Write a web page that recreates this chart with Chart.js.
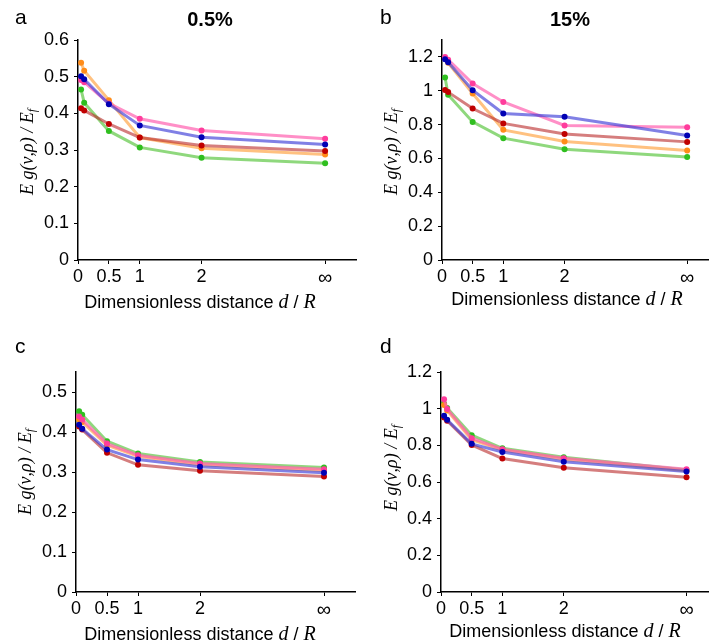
<!DOCTYPE html>
<html>
<head>
<meta charset="utf-8">
<script src="https://cdn.jsdelivr.net/npm/chart.js@4/dist/chart.umd.min.js"></script>
<style>
  html, body { margin:0; padding:0; background:#fff; overflow:hidden; width:712px; height:641px; }
  canvas { position:absolute; }
  .t { position:absolute; font-family:"Liberation Sans", Arial, sans-serif; color:#000; white-space:nowrap; line-height:1; }
  .letter { font-size:21px; }
  .title { font-size:20px; font-weight:bold; transform:translateX(-50%); }
  .xt { font-size:18px; transform:translateX(-50%); }
  .xt i, .yt { font-family:"Liberation Serif", "Times New Roman", serif; font-style:italic; }
  .xt i { font-size:20px; }
  .yt { font-size:18px; transform:translate(-50%,-50%) rotate(-90deg); }
  .yt sub { font-size:12px; vertical-align:-3px; }
</style>
</head>
<body>
<canvas id="ca" width="360" height="320" style="left:0;top:0"></canvas>
<canvas id="cb" width="352" height="320" style="left:360px;top:0"></canvas>
<canvas id="cc" width="360" height="321" style="left:0;top:320px"></canvas>
<canvas id="cd" width="352" height="321" style="left:360px;top:320px"></canvas>

<div class="t letter" style="left:15px;top:6px">a</div>
<div class="t title" style="left:210px;top:9px">0.5%</div>
<div class="t letter" style="left:380px;top:6px">b</div>
<div class="t title" style="left:570px;top:9px">15%</div>
<div class="t letter" style="left:15px;top:335px">c</div>
<div class="t letter" style="left:380px;top:335px">d</div>

<div class="t yt" style="left:28px;top:152px">E g(ν,ρ) / E<sub>f</sub></div>
<div class="t yt" style="left:392px;top:152px">E g(ν,ρ) / E<sub>f</sub></div>
<div class="t yt" style="left:26px;top:472px">E g(ν,ρ) / E<sub>f</sub></div>
<div class="t yt" style="left:392px;top:468px">E g(ν,ρ) / E<sub>f</sub></div>

<div class="t xt" style="left:200px;top:291px">Dimensionless distance <i>d</i> / <i>R</i></div>
<div class="t xt" style="left:567px;top:288px">Dimensionless distance <i>d</i> / <i>R</i></div>
<div class="t xt" style="left:200px;top:623px">Dimensionless distance <i>d</i> / <i>R</i></div>
<div class="t xt" style="left:565px;top:620px">Dimensionless distance <i>d</i> / <i>R</i></div>

<script>
// ---- data ----
const xPositions = [0.05, 0.1, 0.5, 1, 2, 4];
const xTickValues = [0, 0.5, 1, 2, 4];
const xTickLabels = ['0', '0.5', '1', '2', '∞'];

const yTicksA = [0, 0.1, 0.2, 0.3, 0.4, 0.5, 0.6];
const yTicksB = [0, 0.2, 0.4, 0.6, 0.8, 1, 1.2];
const yTicksC = [0, 0.1, 0.2, 0.3, 0.4, 0.5];
const yTicksD = [0, 0.2, 0.4, 0.6, 0.8, 1, 1.2];

// panel a (0.5%)
const aBlue   = [0.501, 0.493, 0.425, 0.367, 0.335, 0.315];
const aPink   = [0.491, 0.485, 0.427, 0.385, 0.353, 0.331];
const aRed    = [0.414, 0.408, 0.371, 0.334, 0.312, 0.297];
const aGreen  = [0.465, 0.429, 0.352, 0.307, 0.279, 0.264];
const aOrange = [0.538, 0.516, 0.436, 0.334, 0.305, 0.288];

// panel b (15%)
const bBlue   = [1.186, 1.169, 1.003, 0.866, 0.846, 0.736];
const bPink   = [1.200, 1.184, 1.043, 0.934, 0.795, 0.785];
const bRed    = [1.005, 0.992, 0.895, 0.807, 0.744, 0.698];
const bGreen  = [1.078, 0.976, 0.816, 0.720, 0.655, 0.608];
const bOrange = [1.190, 1.165, 0.984, 0.769, 0.700, 0.647];

// panel c
const cBlue   = [0.418, 0.408, 0.356, 0.331, 0.313, 0.298];
const cPink   = [0.439, 0.431, 0.371, 0.342, 0.321, 0.307];
const cRed    = [0.414, 0.406, 0.348, 0.318, 0.303, 0.289];
const cGreen  = [0.452, 0.443, 0.377, 0.346, 0.325, 0.311];
const cOrange = [0.431, 0.425, 0.367, 0.339, 0.318, 0.304];

// panel d
const dBlue   = [0.961, 0.939, 0.808, 0.764, 0.711, 0.657];
const dPink   = [1.052, 0.998, 0.839, 0.779, 0.730, 0.669];
const dRed    = [0.952, 0.934, 0.802, 0.728, 0.678, 0.626];
const dGreen  = [1.027, 1.003, 0.855, 0.784, 0.735, 0.666];
const dOrange = [1.020, 0.990, 0.830, 0.775, 0.724, 0.662];

// ---- styles ----
const COLORS = {
  blue:   { line: 'rgba(60,60,215,0.65)',  pt: '#0000b4' },
  pink:   { line: 'rgba(255,95,175,0.70)', pt: '#ff3c9c' },
  red:    { line: 'rgba(185,40,40,0.60)',  pt: '#c00000' },
  green:  { line: 'rgba(95,200,70,0.70)',  pt: '#2fbf1f' },
  orange: { line: 'rgba(255,160,60,0.65)', pt: '#ff8c1a' }
};
const FAMILY = '"Liberation Sans", Arial, sans-serif';
const FONT = { family: FAMILY, size: 18 };
const INF_FONT = { family: FAMILY, size: 20 };

function ds(name, values) {
  return {
    label: name,
    data: values.map((v, i) => ({ x: xPositions[i], y: v })),
    borderColor: COLORS[name].line,
    backgroundColor: COLORS[name].pt,
    pointBackgroundColor: COLORS[name].pt,
    pointBorderWidth: 0,
    pointRadius: 3,
    borderWidth: 3,
    tension: 0
  };
}

function makeChart(id, series, yTicks, yMax, xMax, yWidth, xHeight, padTop, padRight) {
  new Chart(document.getElementById(id), {
    type: 'line',
    data: { datasets: series },
    options: {
      responsive: false,
      animation: false,
      devicePixelRatio: 1,
      layout: { padding: { top: padTop, right: padRight, left: 0, bottom: 0 } },
      plugins: { legend: { display: false }, tooltip: { enabled: false }, title: { display: false } },
      scales: {
        x: {
          type: 'linear', min: 0, max: xMax,
          afterBuildTicks: s => { s.ticks = xTickValues.map(v => ({ value: v })); },
          afterFit: s => { s.height = xHeight; },
          ticks: {
            autoSkip: false, maxRotation: 0, padding: 2, color: '#000',
            font: ctx => (ctx.tick && ctx.tick.value === 4) ? INF_FONT : FONT,
            callback: v => { const k = xTickValues.indexOf(v); return k >= 0 ? xTickLabels[k] : ''; }
          },
          grid: { drawOnChartArea: false, drawTicks: true, tickLength: 4, color: '#000', lineWidth: 1 },
          border: { color: '#000', width: 1.5 }
        },
        y: {
          type: 'linear', min: 0, max: yMax,
          afterBuildTicks: s => { s.ticks = yTicks.map(v => ({ value: v })); },
          afterFit: s => { s.width = yWidth; },
          ticks: { padding: 5, color: '#000', font: FONT, callback: v => String(+v.toFixed(2)) },
          grid: { drawOnChartArea: false, drawTicks: true, tickLength: 4, color: '#000', lineWidth: 1 },
          border: { color: '#000', width: 1.5 }
        }
      }
    }
  });
}

makeChart('ca', [ds('blue', aBlue), ds('pink', aPink), ds('red', aRed), ds('orange', aOrange), ds('green', aGreen)],
  yTicksA, 0.6, 4.5, 78, 60, 40, 3);
makeChart('cb', [ds('blue', bBlue), ds('pink', bPink), ds('red', bRed), ds('orange', bOrange), ds('green', bGreen)],
  yTicksB, 1.3, 4.34, 82, 60, 40, 0);
makeChart('cc', [ds('blue', cBlue), ds('red', cRed), ds('pink', cPink), ds('orange', cOrange), ds('green', cGreen)],
  yTicksC, 0.55, 4.5, 76, 49, 52, 5);
makeChart('cd', [ds('blue', dBlue), ds('red', dRed), ds('pink', dPink), ds('orange', dOrange), ds('green', dGreen)],
  yTicksD, 1.2, 4.35, 81, 49, 52, 0);
</script>
</body>
</html>
